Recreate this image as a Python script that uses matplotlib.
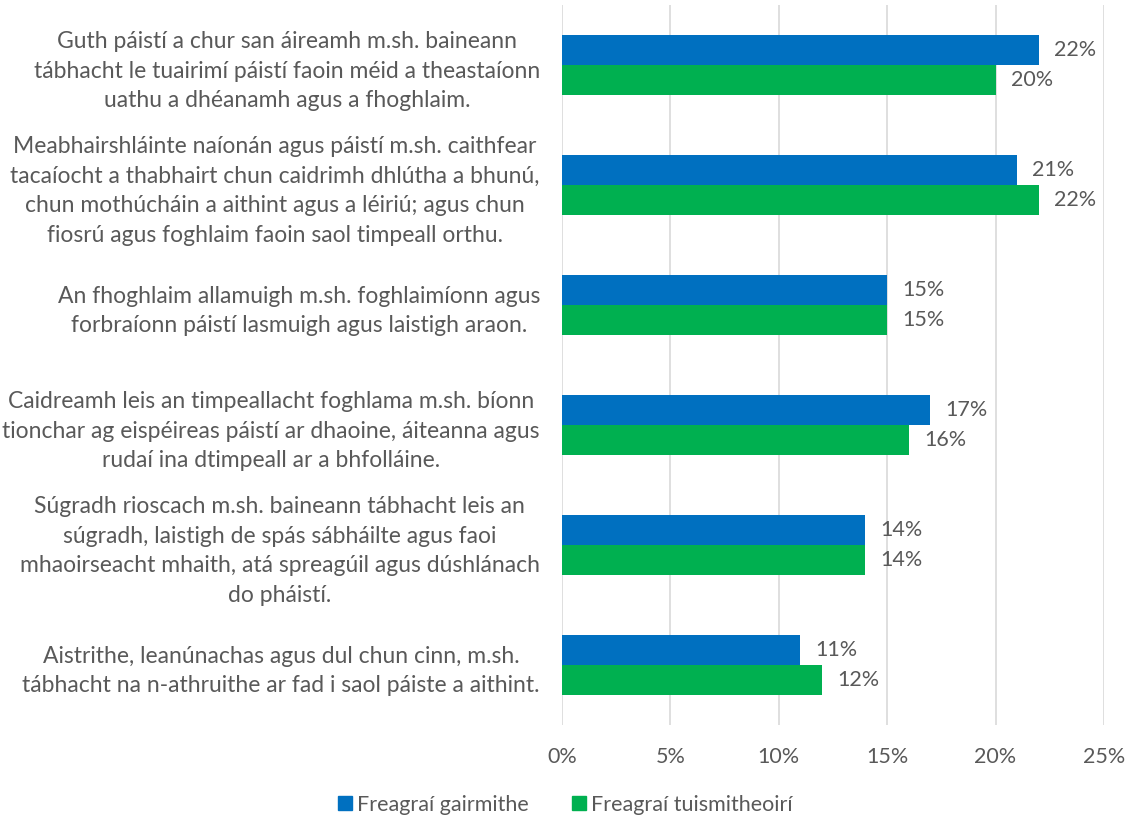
import matplotlib.pyplot as plt
from matplotlib.patches import Patch
from matplotlib.ticker import FuncFormatter
import numpy as np

plt.rcParams['font.family'] = ['Lato', 'DejaVu Sans']

# catagóirí (ó bharr go bun)
categories = [
    "Guth páistí a chur san áireamh m.sh. baineann\ntábhacht le tuairimí páistí faoin méid a theastaíonn\nuathu a dhéanamh agus a fhoghlaim.",
    "Meabhairshláinte naíonán agus páistí m.sh. caithfear\ntacaíocht a thabhairt chun caidrimh dhlútha a bhunú,\nchun mothúcháin a aithint agus a léiriú; agus chun\nfiosrú agus foghlaim faoin saol timpeall orthu.",
    "An fhoghlaim allamuigh m.sh. foghlaimíonn agus\nforbraíonn páistí lasmuigh agus laistigh araon.",
    "Caidreamh leis an timpeallacht foghlama m.sh. bíonn\ntionchar ag eispéireas páistí ar dhaoine, áiteanna agus\nrudaí ina dtimpeall ar a bhfolláine.",
    "Súgradh rioscach m.sh. baineann tábhacht leis an\nsúgradh, laistigh de spás sábháilte agus faoi\nmhaoirseacht mhaith, atá spreagúil agus dúshlánach\ndo pháistí.",
    "Aistrithe, leanúnachas agus dul chun cinn, m.sh.\ntábhacht na n-athruithe ar fad i saol páiste a aithint.",
]
gairmithe = [22, 21, 15, 17, 14, 11]
tuismitheoiri = [20, 22, 15, 16, 14, 12]
series_names = ["Freagraí gairmithe", "Freagraí tuismitheoirí"]

blue = "#0070C0"
green = "#00B050"
txt = "#595959"

fig = plt.figure(figsize=(11.31, 8.21), dpi=100)
ax = fig.add_axes([0.497, 0.117, 0.479, 0.877])

y = np.arange(len(categories))
h = 0.25
ax.barh(y - h / 2, gairmithe, height=h, color=blue, zorder=3)
ax.barh(y + h / 2, tuismitheoiri, height=h, color=green, zorder=3)

for yi, v in zip(y - h / 2, gairmithe):
    ax.annotate(f"{v}%", (v, yi), xytext=(11, 0), textcoords="offset points",
                va="center", ha="left", fontsize=15.5, color=txt)
for yi, v in zip(y + h / 2, tuismitheoiri):
    ax.annotate(f"{v}%", (v, yi), xytext=(11, 0), textcoords="offset points",
                va="center", ha="left", fontsize=15.5, color=txt)

ax.set_xlim(0, 25)
ax.set_xticks([0, 5, 10, 15, 20, 25])
ax.xaxis.set_major_formatter(FuncFormatter(lambda x, p: f"{x:.0f}%"))
ax.set_ylim(len(categories) - 0.5, -0.5)
ax.set_yticks(y)
ax.set_yticklabels(categories, fontsize=16.5, color=txt, linespacing=1.5,
                   multialignment="center")
ax.tick_params(axis="y", length=0, pad=16)
ax.tick_params(axis="x", length=0, pad=16, labelsize=15.5, labelcolor=txt)

ax.grid(axis="x", color="#D9D9D9", linewidth=1.2, zorder=0)
for s in ax.spines.values():
    s.set_visible(False)

handles = [Patch(color=blue), Patch(color=green)]
fig.legend(handles, series_names, loc="center", bbox_to_anchor=(0.5, 0.02),
           ncol=2, frameon=False, fontsize=15.5, labelcolor=txt,
           handlelength=0.65, handleheight=0.65, handletextpad=0.25,
           columnspacing=2.0)

fig.savefig("out.png", dpi=100)
